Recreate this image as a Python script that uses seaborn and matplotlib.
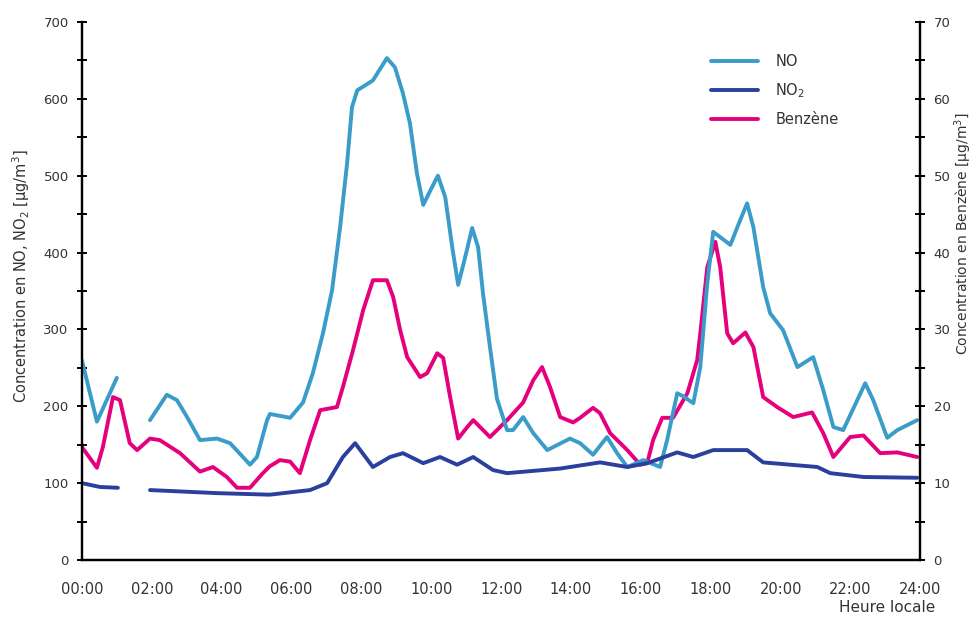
#!/usr/bin/env python3
"""NO, NO2 and benzene concentrations over one day."""

import numpy as np
import pandas as pd
import seaborn as sns
import matplotlib.pyplot as plt
from matplotlib.ticker import MultipleLocator, FixedLocator

# hours of the day and concentrations
NO_HOURS = [0.0, 0.43, 1.0,
            1.95, 2.43, 2.72, 3.01, 3.38, 3.87, 4.24, 4.61, 4.81, 5.01, 5.30, 5.38,
            5.96, 6.33, 6.61, 6.90, 7.16, 7.39, 7.59, 7.73, 7.88, 8.33, 8.73, 8.96,
            9.19, 9.39, 9.59, 9.77, 10.02, 10.19, 10.40, 10.60, 10.77, 10.97, 11.17,
            11.34, 11.48, 11.68, 11.88, 12.17, 12.34, 12.63, 12.92, 13.32, 13.97,
            14.26, 14.63, 15.03, 15.32, 15.61, 16.07, 16.55, 16.75, 17.04, 17.21,
            17.50, 17.70, 17.90, 18.07, 18.56, 18.84, 19.04, 19.22, 19.50, 19.70,
            20.07, 20.48, 20.93, 21.22, 21.51, 21.79, 22.42, 22.65, 23.05, 23.34, 23.91]
NO_VALUES = [260, 180, 237,
             182, 215, 208, 186, 156, 158, 152, 134, 124, 134, 182, 190,
             185, 205, 243, 295, 351, 433, 516, 589, 611, 624, 653, 641,
             607, 568, 503, 462, 485, 500, 472, 407, 358, 394, 432,
             407, 347, 277, 210, 169, 169, 186, 165, 143, 158,
             152, 137, 160, 139, 121, 130, 121, 156, 217, 213,
             204, 251, 360, 427, 410, 442, 464, 433, 355, 321,
             299, 251, 264, 221, 173, 169, 230, 208, 159, 169, 182]

NO2_HOURS = [0.0, 0.52, 1.03,
             1.95, 3.87, 5.38, 6.53, 7.02, 7.47, 7.82, 8.33, 8.82, 9.19, 9.77,
             10.25, 10.74, 11.20, 11.77, 12.17, 13.69, 14.83, 15.61, 16.18, 17.04,
             17.50, 18.07, 19.04, 19.50, 21.05, 21.42, 22.37, 23.91]
NO2_VALUES = [100, 95, 94,
              91, 87, 85, 91, 100, 134, 152, 121, 134, 139, 126,
              134, 124, 134, 117, 113, 119, 127, 121, 126, 140,
              134, 143, 143, 127, 121, 113, 108, 107]

BENZENE_HOURS = [0.0, 0.43, 0.60, 0.89, 1.09, 1.37, 1.58, 1.95, 2.23, 2.81, 3.38,
                 3.75, 4.15, 4.44, 4.81, 5.18, 5.38, 5.67, 5.96, 6.24, 6.53, 6.82,
                 7.30, 7.47, 7.76, 8.05, 8.33, 8.73, 8.91, 9.11, 9.31, 9.68, 9.88,
                 10.17, 10.34, 10.54, 10.77, 11.03, 11.20, 11.68, 12.17, 12.63,
                 12.92, 13.17, 13.40, 13.69, 14.06, 14.26, 14.63, 14.83, 15.12,
                 15.61, 15.98, 16.18, 16.35, 16.61, 16.92, 17.33, 17.61, 17.70,
                 17.90, 18.13, 18.27, 18.47, 18.64, 18.99, 19.22, 19.50, 19.90,
                 20.36, 20.90, 21.22, 21.51, 21.99, 22.37, 22.85, 23.34, 23.91]
BENZENE_VALUES = [14.7, 12.0, 14.7, 21.2, 20.8, 15.2, 14.3, 15.8, 15.6, 13.9, 11.5,
                  12.1, 10.8, 9.4, 9.4, 11.3, 12.2, 13.0, 12.8, 11.3, 15.6, 19.5,
                  19.9, 22.5, 27.3, 32.5, 36.4, 36.4, 34.2, 29.9, 26.4, 23.8, 24.3,
                  26.9, 26.3, 21.2, 15.8, 17.3, 18.2, 16.0, 18.2, 20.5,
                  23.4, 25.1, 22.5, 18.6, 17.9, 18.5, 19.8, 19.1, 16.5,
                  14.3, 12.4, 12.6, 15.6, 18.5, 18.5, 21.7, 26.0, 29.5,
                  38.1, 41.4, 38.1, 29.5, 28.2, 29.6, 27.7, 21.2, 19.9,
                  18.6, 19.2, 16.5, 13.4, 16.0, 16.2, 13.9, 14.0, 13.4]

# NO and NO2 have no data between about 01:00 and 02:00
GAP_HOUR = 1.5

X_TICKS = list(range(0, 25, 2))
X_LABELS = [f"{h:02d}:00" for h in X_TICKS]

NO_COLOR = '#3a9cc9'
NO2_COLOR = '#2b3f9c'
BENZENE_COLOR = '#e5007e'
TEXT_COLOR = '#333333'


def to_frame(hours, values):
    df = pd.DataFrame({'hour': hours, 'value': values})
    df['segment'] = (df['hour'] > GAP_HOUR).astype(int)
    return df


def main():
    sns.set_style('white')
    plt.rcParams['font.family'] = ['DejaVu Sans']

    fig = plt.figure(figsize=(9.75, 6.19), dpi=100)
    ax = fig.add_axes([0.084, 0.0953, 0.860, 0.8692])
    ax2 = ax.twinx()

    lw = 2.8
    sns.lineplot(data=to_frame(NO_HOURS, NO_VALUES), x='hour', y='value',
                 units='segment', estimator=None, color=NO_COLOR, lw=lw, ax=ax)
    sns.lineplot(data=to_frame(NO2_HOURS, NO2_VALUES), x='hour', y='value',
                 units='segment', estimator=None, color=NO2_COLOR, lw=lw, ax=ax)
    sns.lineplot(x=BENZENE_HOURS, y=BENZENE_VALUES, color=BENZENE_COLOR, lw=lw, ax=ax2)
    ax.set_zorder(ax2.get_zorder() + 1)
    ax.patch.set_visible(False)

    ax.set_xlim(0, 24)
    ax.set_ylim(0, 700)
    ax2.set_ylim(0, 70)

    ax.xaxis.set_major_locator(FixedLocator(X_TICKS))
    ax.set_xticklabels(X_LABELS)
    ax.xaxis.set_minor_locator(MultipleLocator(1))
    ax.yaxis.set_major_locator(MultipleLocator(100))
    ax.yaxis.set_minor_locator(MultipleLocator(50))
    ax2.yaxis.set_major_locator(MultipleLocator(10))
    ax2.yaxis.set_minor_locator(MultipleLocator(5))

    for a in (ax, ax2):
        a.spines['top'].set_visible(False)
        for side in ('left', 'right', 'bottom'):
            a.spines[side].set_color('black')
            a.spines[side].set_linewidth(1.6)
        a.set_xlabel('')
        a.set_ylabel('')

    ax.tick_params(axis='x', which='both', direction='out', length=5, width=1.4,
                   colors='black', labelcolor=TEXT_COLOR, labelsize=10.5, pad=11)
    ax.tick_params(axis='y', which='both', direction='inout', length=7, width=1.4,
                   colors='black', labelcolor=TEXT_COLOR, labelsize=9.5, pad=6)
    ax2.tick_params(axis='y', which='both', direction='inout', length=7, width=1.4,
                    colors='black', labelcolor=TEXT_COLOR, labelsize=9.5, pad=6)

    fig.text(0.022, 0.553, 'Concentration en NO, NO$_2$ [µg/m$^3$]', rotation=90,
             ha='center', va='center', fontsize=10.5, color=TEXT_COLOR)
    fig.text(0.988, 0.623, 'Concentration en Benzène [µg/m$^3$]', rotation=90,
             ha='center', va='center', fontsize=10, color=TEXT_COLOR)
    fig.text(0.959, 0.018, 'Heure locale', ha='right', va='center',
             fontsize=11, color=TEXT_COLOR)

    handles = [plt.Line2D([], [], color=NO_COLOR, lw=lw),
               plt.Line2D([], [], color=NO2_COLOR, lw=lw),
               plt.Line2D([], [], color=BENZENE_COLOR, lw=lw)]
    ax.legend(handles, ['NO', 'NO$_2$', 'Benzène'], loc='upper left',
              bbox_to_anchor=(0.735, 0.965), frameon=False, fontsize=10.5,
              handlelength=3.2, handletextpad=1.2, labelspacing=0.85,
              labelcolor=TEXT_COLOR)

    fig.savefig('out.png', dpi=100)


if __name__ == "__main__":
    main()
